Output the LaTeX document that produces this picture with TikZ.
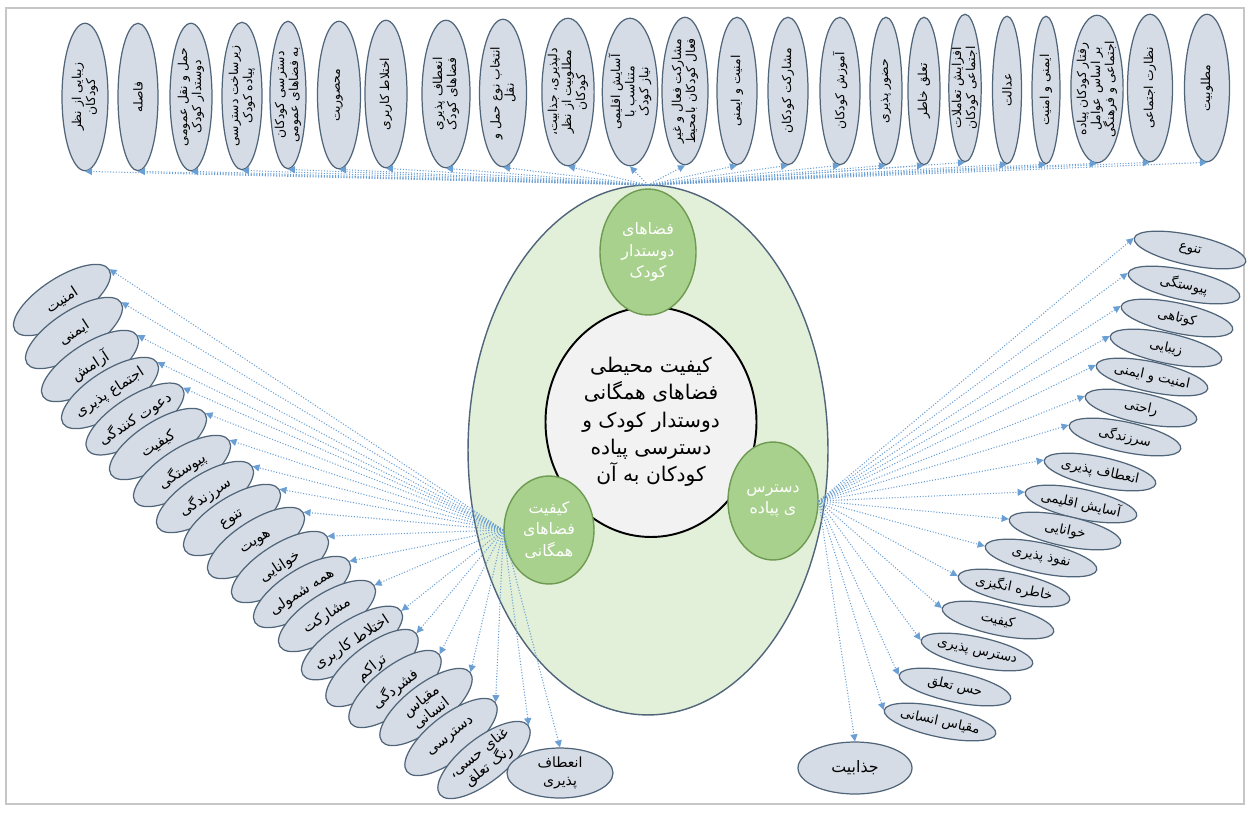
\documentclass[tikz,border=0pt]{standalone}
\usepackage{fontspec}
\usepackage{tikz}
\usetikzlibrary{shapes.geometric,arrows.meta}
\newfontfamily\arabicfont[Script=Arabic]{DejaVu Sans}
\TeXXeTstate=1
\newcommand{\fa}[1]{\beginR #1\endR}
\definecolor{cellfill}{HTML}{D6DCE5}
\definecolor{celledge}{HTML}{50657A}
\definecolor{linkblue}{HTML}{6A9FD4}
\definecolor{paleground}{HTML}{E2EFD9}
\definecolor{leafgreen}{HTML}{A9D18E}
\definecolor{leafedge}{HTML}{6F9A52}

\begin{document}
\begin{tikzpicture}[x=0.02cm, y=-0.02cm,
	cell/.style={ellipse, draw=celledge, fill=cellfill, line width=0.7pt, inner sep=-1pt, align=center, font=\arabicfont\fontsize{7}{8}\selectfont},
	topbox/.style={cell, rotate=90, minimum width=2.95cm},
	leftbox/.style={cell, rotate=33, minimum width=2.24cm, minimum height=0.88cm, font=\arabicfont\fontsize{8.3}{9.3}\selectfont},
	rightbox/.style={cell, rotate=-12, minimum width=2.28cm, minimum height=0.6cm, font=\arabicfont\fontsize{7.6}{8.6}\selectfont},
	hub/.style={ellipse, draw=leafedge, fill=leafgreen, line width=0.8pt, inner sep=0pt, align=center, text=white, font=\arabicfont\fontsize{9}{12}\selectfont},
	link/.style={densely dotted, draw=linkblue, line width=0.6pt, -{Triangle[length=4pt,width=4pt]}}]
\useasboundingbox (0,0) rectangle (1248,812);
\draw[gray!45, line width=0.6pt] (6,8) rectangle (1244,804);

% middle
\node[ellipse, draw=celledge, fill=paleground, line width=0.8pt, minimum width=7.2cm, minimum height=10.6cm] (big) at (648,450) {};
\node[ellipse, draw=black, fill=black!5, line width=1.1pt, minimum width=3.48cm, minimum height=4.6cm, align=center, font=\arabicfont\fontsize{11.5}{15.5}\selectfont] (core) at (651,422) {\fa{کیفیت محیطی}\\\fa{فضاهای همگانی}\\\fa{دوستدار کودک و}\\\fa{دسترسی پیاده}\\\fa{کودکان به آن}};
\node[hub, minimum width=1.92cm, minimum height=2.52cm] (tc) at (648,252) {\fa{فضاهای}\\\fa{دوستدار}\\\fa{کودک}};
\node[hub, minimum width=1.8cm, minimum height=2.16cm] (lc) at (549,530) {\fa{کیفیت}\\\fa{فضاهای}\\\fa{همگانی}};
\node[hub, minimum width=1.8cm, minimum height=2.36cm] (rc) at (773,501) {\fa{دسترس}\\\fa{ی پیاده}};
\coordinate (topin) at (648,185);

% top row
\node[topbox, minimum height=0.92cm] (t1) at (85,97) {\fa{زیبایی از نظر}\\\fa{کودکان}};
\node[topbox, minimum height=0.80cm] (t2) at (138,97) {\fa{فاصله}};
\node[topbox, minimum height=0.84cm] (t3) at (191,97) {\fa{حمل و نقل عمومی}\\\fa{دوستدار کودک}};
\node[topbox, minimum height=0.80cm] (t4) at (242,96) {\fa{زیرساخت دسترسی}\\\fa{پیاده کودک}};
\node[topbox, minimum height=0.72cm] (t5) at (288,95) {\fa{دسترسی کودکان}\\\fa{به فضاهای عمومی}};
\node[topbox, minimum height=0.86cm] (t6) at (339,95) {\fa{محصوریت}};
\node[topbox, minimum height=0.84cm] (t7) at (386,94) {\fa{اختلاط کاربری}};
\node[topbox, minimum height=0.96cm] (t8) at (446,94) {\fa{انعطاف پذیری}\\\fa{فضاهای کودک}};
\node[topbox, minimum height=0.94cm] (t9) at (503,93) {\fa{انتخاب نوع حمل و}\\\fa{نقل}};
\node[topbox, minimum height=0.86cm] (t10) at (568,92) {\fa{دلپذیری، جذابیت،}\\\fa{مطلوبیت از نظر}\\\fa{کودکان}};
\node[topbox, minimum height=0.96cm] (t11) at (630,92) {\fa{آسایش اقلیمی}\\\fa{متناسب با}\\\fa{نیاز کودک}};
\node[topbox, minimum height=0.92cm] (t12) at (685,91) {\fa{مشارکت فعال و غیر}\\\fa{فعال کودکان بامحیط}};
\node[topbox, minimum height=0.80cm] (t13) at (737,91) {\fa{امنیت و ایمنی}};
\node[topbox, minimum height=0.80cm] (t14) at (788,91) {\fa{مشارکت کودکان}};
\node[topbox, minimum height=0.80cm] (t15) at (840,91) {\fa{آموزش کودکان}};
\node[topbox, minimum height=0.64cm] (t16) at (886,91) {\fa{حضور پذیری}};
\node[topbox, minimum height=0.64cm] (t17) at (924,91) {\fa{تعلق خاطر}};
\node[topbox, minimum height=0.60cm] (t18) at (965,88) {\fa{افزایش تعاملات}\\\fa{اجتماعی کودکان}};
\node[topbox, minimum height=0.58cm] (t19) at (1007,90) {\fa{عدالت}};
\node[topbox, minimum height=0.56cm] (t20) at (1046,90) {\fa{ایمنی و امنیت}};
\node[topbox, minimum height=0.98cm] (t21) at (1097,89) {\fa{رفتار کودکان پیاده}\\\fa{بر اساس عوامل}\\\fa{اجتماعی و فرهنگی}};
\node[topbox, minimum height=0.90cm] (t22) at (1150,88) {\fa{نظارت اجتماعی}};
\node[topbox, minimum height=0.90cm] (t23) at (1207,88) {\fa{مطلوبیت}};

% left fan
\node[leftbox] (l1) at (62,300) {\fa{امنیت}};
\node[leftbox] (l2) at (74,333) {\fa{ایمنی}};
\node[leftbox] (l3) at (90,366) {\fa{آرامش}};
\node[leftbox] (l4) at (110,393) {\fa{اجتماع پذیری}};
\node[leftbox] (l5) at (135,419) {\fa{دعوت کنندگی}};
\node[leftbox] (l6) at (158,444) {\fa{کیفیت}};
\node[leftbox] (l7) at (182,471) {\fa{پیوستگی}};
\node[leftbox] (l8) at (205,497) {\fa{سرزندگی}};
\node[leftbox] (l9) at (232,520) {\fa{تنوع}};
\node[leftbox] (l10) at (256,543) {\fa{هویت}};
\node[leftbox] (l11) at (280,567) {\fa{خوانایی}};
\node[leftbox] (l12) at (302,592) {\fa{همه شمولی}};
\node[leftbox] (l13) at (327,616) {\fa{مشارکت}};
\node[leftbox] (l14) at (352,643) {\fa{اختلاط کاربری}};
\node[leftbox, rotate=5] (l15) at (372,668) {\fa{تراکم}};
\node[leftbox, rotate=5] (l16) at (395,689) {\fa{فشردگی}};
\node[leftbox, rotate=5] (l17) at (426,707) {\fa{مقیاس}\\\fa{انسانی}};
\node[leftbox, rotate=5] (l18) at (451,737) {\fa{دسترسی}};
\node[leftbox, rotate=5] (l19) at (484,760) {\fa{غنای حسی،}\\\fa{رنگ تعلق}};
\node[cell, minimum width=2.12cm, minimum height=1cm, font=\arabicfont\fontsize{8}{10.5}\selectfont] (l20) at (560,773) {\fa{انعطاف}\\\fa{پذیری}};

% right fan
\node[rightbox] (r1) at (1190,250) {\fa{تنوع}};
\node[rightbox] (r2) at (1184,285) {\fa{پیوستگی}};
\node[rightbox] (r3) at (1177,318) {\fa{کوتاهی}};
\node[rightbox] (r4) at (1166,348) {\fa{زیبایی}};
\node[rightbox] (r5) at (1152,377) {\fa{امنیت و ایمنی}};
\node[rightbox] (r6) at (1141,408) {\fa{راحتی}};
\node[rightbox] (r7) at (1125,437) {\fa{سرزندگی}};
\node[rightbox] (r8) at (1100,472) {\fa{انعطاف پذیری}};
\node[rightbox] (r9) at (1081,504) {\fa{آسایش اقلیمی}};
\node[rightbox] (r10) at (1065,531) {\fa{خوانایی}};
\node[rightbox] (r11) at (1041,558) {\fa{نفوذ پذیری}};
\node[rightbox] (r12) at (1014,588) {\fa{خاطره انگیزی}};
\node[rightbox] (r13) at (998,620) {\fa{کیفیت}};
\node[rightbox] (r14) at (977,652) {\fa{دسترس پذیری}};
\node[rightbox] (r15) at (955,687) {\fa{حس تعلق}};
\node[rightbox] (r16) at (940,722) {\fa{مقیاس انسانی}};
\node[cell, minimum width=2.28cm, minimum height=1.04cm, font=\arabicfont\fontsize{9}{10}\selectfont] (r17) at (855,768) {\fa{جذابیت}};

% links
\draw[link] (topin) -- (t1.west);
\draw[link] (topin) -- (t2.west);
\draw[link] (topin) -- (t3.west);
\draw[link] (topin) -- (t4.west);
\draw[link] (topin) -- (t5.west);
\draw[link] (topin) -- (t6.west);
\draw[link] (topin) -- (t7.west);
\draw[link] (topin) -- (t8.west);
\draw[link] (topin) -- (t9.west);
\draw[link] (topin) -- (t10.west);
\draw[link] (topin) -- (t11.west);
\draw[link] (topin) -- (t12.west);
\draw[link] (topin) -- (t13.west);
\draw[link] (topin) -- (t14.west);
\draw[link] (topin) -- (t15.west);
\draw[link] (topin) -- (t16.west);
\draw[link] (topin) -- (t17.west);
\draw[link] (topin) -- (t18.west);
\draw[link] (topin) -- (t19.west);
\draw[link] (topin) -- (t20.west);
\draw[link] (topin) -- (t21.west);
\draw[link] (topin) -- (t22.west);
\draw[link] (topin) -- (t23.west);
\draw[link] (lc.west) -- (l1.east);
\draw[link] (lc.west) -- (l2.east);
\draw[link] (lc.west) -- (l3.east);
\draw[link] (lc.west) -- (l4.east);
\draw[link] (lc.west) -- (l5.east);
\draw[link] (lc.west) -- (l6.east);
\draw[link] (lc.west) -- (l7.east);
\draw[link] (lc.west) -- (l8.east);
\draw[link] (lc.west) -- (l9.east);
\draw[link] (lc.west) -- (l10.east);
\draw[link] (lc.west) -- (l11.east);
\draw[link] (lc.west) -- (l12.east);
\draw[link] (lc.west) -- (l13.east);
\draw[link] (lc.west) -- (l14.east);
\draw[link] (lc.west) -- (l15.east);
\draw[link] (lc.west) -- (l16.east);
\draw[link] (lc.west) -- (l17.east);
\draw[link] (lc.west) -- (l18.east);
\draw[link] (lc.west) -- (l19.east);
\draw[link] (lc.west) -- (l20.north);
\draw[link] (rc.east) -- (r1.west);
\draw[link] (rc.east) -- (r2.west);
\draw[link] (rc.east) -- (r3.west);
\draw[link] (rc.east) -- (r4.west);
\draw[link] (rc.east) -- (r5.west);
\draw[link] (rc.east) -- (r6.west);
\draw[link] (rc.east) -- (r7.west);
\draw[link] (rc.east) -- (r8.west);
\draw[link] (rc.east) -- (r9.west);
\draw[link] (rc.east) -- (r10.west);
\draw[link] (rc.east) -- (r11.west);
\draw[link] (rc.east) -- (r12.west);
\draw[link] (rc.east) -- (r13.west);
\draw[link] (rc.east) -- (r14.west);
\draw[link] (rc.east) -- (r15.west);
\draw[link] (rc.east) -- (r16.west);
\draw[link] (rc.east) -- (r17.north);
\end{tikzpicture}
\end{document}
